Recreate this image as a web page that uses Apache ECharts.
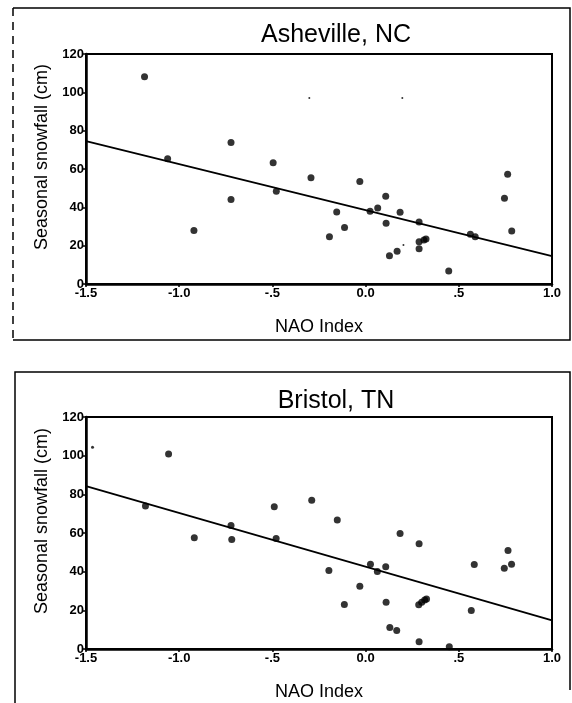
<!DOCTYPE html>
<html>
<head>
    <meta charset="utf-8">
    <title>NAO vs snowfall</title>
    <script src="https://cdn.jsdelivr.net/npm/echarts@6/dist/echarts.min.js"></script>
    <style>
        html, body { margin: 0; padding: 0; background: #fff; }
        #main { width: 572px; height: 703px; }
    </style>
</head>
<body>
<div id="main"></div>
<script type="text/javascript">

    // Asheville, NC : NAO index vs seasonal snowfall (cm)
    var ashevilleNao  = [-1.186, -1.062, -0.722, -0.496, 0.762, -0.293, -0.031, -0.722, -0.479, -0.921,
                         -0.155, -0.113, -0.194, 0.024, 0.065, 0.108, 0.110, 0.185, 0.128, 0.169,
                         0.287, 0.287, 0.313, 0.324, 0.287, 0.446, 0.562, 0.588, 0.745, 0.784];
    var ashevilleSnow = [108.1, 65.4, 73.8, 63.3, 57.3, 55.5, 53.5, 44.1, 48.4, 27.9,
                         37.6, 29.5, 24.7, 38.0, 39.7, 45.8, 31.7, 37.5, 14.8, 17.1,
                         32.4, 22.0, 23.0, 23.5, 18.4, 6.8, 26.0, 24.7, 44.8, 27.6];
    // faint specks on the scan
    var ashevilleFaintNao  = [0.203, -0.302, 0.197];
    var ashevilleFaintSnow = [20.4, 97, 97];
    var ashevilleFitNao  = [-1.5, 1.0];
    var ashevilleFitSnow = [74.6, 14.5];

    // Bristol, TN
    var bristolNao  = [-1.465, -1.057, -1.181, -0.490, -0.289, -0.152, -0.722, -0.919, -0.718, -0.480,
                       0.185, 0.287, 0.764, 0.583, 0.744, 0.783, 0.026, 0.063, 0.108, -0.197,
                       -0.031, -0.114, 0.110, 0.285, 0.301, 0.317, 0.327, 0.567, 0.130, 0.167,
                       0.287, 0.449];
    var bristolSnow = [104.3, 100.9, 74.0, 73.6, 77.0, 66.7, 63.9, 57.5, 56.6, 57.1,
                       59.8, 54.4, 51.0, 43.7, 41.8, 43.8, 43.8, 40.1, 42.6, 40.6,
                       32.4, 23.0, 24.2, 22.9, 24.2, 25.4, 25.9, 19.9, 11.1, 9.6,
                       3.8, 1.2];
    var bristolFitNao  = [-1.5, 1.0];
    var bristolFitSnow = [84.2, 14.8];

    var titles = ['Asheville, NC', 'Bristol, TN'];
    var xTickLabels = {'-1.5': '-1.5', '-1': '-1.0', '-0.5': '-.5', '0': '0.0', '0.5': '.5', '1': '1.0'};

    function zip(a, b) {
        return a.map(function (v, i) { return [v, b[i]]; });
    }

    var font = "'Liberation Sans', Arial, sans-serif";
    var grids = [
        {left: 86, right: 20, top: 54, height: 230},
        {left: 86, right: 20, top: 417, height: 232}
    ];

    function xAxis(idx) {
        return {
            type: 'value', gridIndex: idx, min: -1.5, max: 1.0, interval: 0.5,
            name: 'NAO Index', nameLocation: 'middle', nameGap: 34,
            nameTextStyle: {fontFamily: font, fontSize: 18, color: '#000'},
            axisLine: {show: true, onZero: false, lineStyle: {color: '#000', width: 2.5}},
            axisTick: {show: true, length: 3, lineStyle: {color: '#000', width: 1.5}},
            axisLabel: {
                fontFamily: font, fontSize: 13, fontWeight: 'bold', color: '#000', margin: 3,
                formatter: function (v) { return xTickLabels[String(v)]; }
            },
            splitLine: {show: false}
        };
    }

    function yAxis(idx) {
        return {
            type: 'value', gridIndex: idx, min: 0, max: 120, interval: 20,
            name: 'Seasonal snowfall (cm)', nameLocation: 'middle', nameGap: 35,
            nameTextStyle: {fontFamily: font, fontSize: 18, color: '#000', padding: [0, 0, 0, 24]},
            axisLine: {show: true, onZero: false, lineStyle: {color: '#000', width: 2.5}},
            axisTick: {show: true, length: 3, lineStyle: {color: '#000', width: 1.5}},
            axisLabel: {fontFamily: font, fontSize: 13, fontWeight: 'bold', color: '#000', margin: 2},
            splitLine: {show: false}
        };
    }

    function dots(idx, data, size) {
        return {
            type: 'scatter', xAxisIndex: idx, yAxisIndex: idx, data: data,
            symbol: 'circle', symbolSize: size, itemStyle: {color: '#000'},
            silent: true, z: 3
        };
    }

    function fit(idx, data) {
        return {
            type: 'line', xAxisIndex: idx, yAxisIndex: idx, data: data,
            showSymbol: false, lineStyle: {color: '#000', width: 1.8}, silent: true, z: 2
        };
    }

    var bristolData = zip(bristolNao, bristolSnow);
    bristolData[0] = {value: bristolData[0], symbolSize: 3};

    var myChart = echarts.init(document.getElementById('main'));
    myChart.setOption({
        animation: false,
        backgroundColor: '#fff',
        title: [
            {text: titles[0], left: 331, top: 18, textAlign: 'center',
                textStyle: {fontFamily: font, fontSize: 25, fontWeight: 'normal', color: '#000'}},
            {text: titles[1], left: 331, top: 384, textAlign: 'center',
                textStyle: {fontFamily: font, fontSize: 25, fontWeight: 'normal', color: '#000'}}
        ],
        grid: grids.map(function (g) {
            return Object.assign({show: true, borderColor: '#000', borderWidth: 2, backgroundColor: 'transparent'}, g);
        }),
        xAxis: [xAxis(0), xAxis(1)],
        yAxis: [yAxis(0), yAxis(1)],
        series: [
            fit(0, zip(ashevilleFitNao, ashevilleFitSnow)),
            dots(0, zip(ashevilleNao, ashevilleSnow), 7),
            dots(0, zip(ashevilleFaintNao, ashevilleFaintSnow), 2),
            fit(1, zip(bristolFitNao, bristolFitSnow)),
            dots(1, bristolData, 7)
        ],
        graphic: [
            // scanned panel frames
            {type: 'polyline', shape: {points: [[13, 340], [570, 340], [570, 8], [13, 8]]},
                style: {stroke: '#000', lineWidth: 1.5, fill: null}},
            {type: 'line', shape: {x1: 13, y1: 8, x2: 13, y2: 340},
                style: {stroke: '#000', lineWidth: 1.5, lineDash: [8, 6]}},
            {type: 'polyline', shape: {points: [[15, 710], [15, 372], [570, 372], [570, 690]]},
                style: {stroke: '#000', lineWidth: 1.5, fill: null}}
        ]
    });
</script>
</body>
</html>
